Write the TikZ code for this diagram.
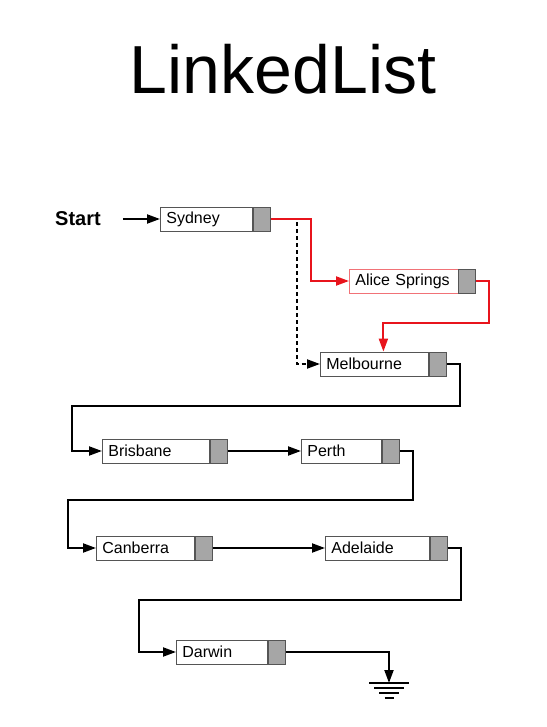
\documentclass[tikz,border=0pt]{standalone}
\usepackage{fontspec}
\setmainfont{Liberation Sans}
\usetikzlibrary{positioning,arrows.meta}

\definecolor{cellgray}{HTML}{A6A6A6}
\definecolor{edgegray}{HTML}{555555}
\definecolor{linkred}{HTML}{E8141C}

\tikzset{
    cell/.style={draw=edgegray, line width=0.8pt, anchor=west, minimum height=24pt,
        inner xsep=6pt, align=left, font=\fontsize{16}{19}\selectfont},
    ptr/.style={draw=edgegray, fill=cellgray, line width=0.8pt, minimum height=24pt,
        minimum width=17pt, inner sep=0pt},
    link/.style={line width=2pt, -{Triangle[length=13pt,width=9pt]}},
    redlink/.style={link, draw=linkred}
}

\begin{document}
\begin{tikzpicture}[x=1pt,y=-1pt]
    \useasboundingbox [fill=white] (0,0) rectangle (546,727);

    \node (title) [anchor=base, font=\fontsize{68}{80}\selectfont] at (283,94) {LinkedList};
    \node (start) [anchor=west, inner sep=0pt, font=\fontsize{20}{24}\selectfont\bfseries] at (55,219) {Start};

    % nodes of the list
    \node [cell, text width=80pt] (syd)  at (160,219) {Sydney};
    \node [ptr, right=0pt of syd] (sydp) {};
    \node [cell, text width=97pt, draw=linkred!60] (alice) at (349,281) {Alice Springs};
    \node [ptr, right=-0.8pt of alice] (alicep) {};
    \node [cell, text width=96pt] (melb) at (320,364) {Melbourne};
    \node [ptr, right=0pt of melb] (melbp) {};
    \node [cell, text width=95pt] (bris) at (102,451) {Brisbane};
    \node [ptr, right=0pt of bris] (brisp) {};
    \node [cell, text width=68pt] (perth) at (301,451) {Perth};
    \node [ptr, right=0pt of perth] (perthp) {};
    \node [cell, text width=86pt] (canb) at (96,548) {Canberra};
    \node [ptr, right=0pt of canb] (canbp) {};
    \node [cell, text width=92pt] (adel) at (325,548) {Adelaide};
    \node [ptr, right=0pt of adel] (adelp) {};
    \node [cell, text width=79pt] (darw) at (176,652) {Darwin};
    \node [ptr, right=0pt of darw] (darwp) {};
    \coordinate (gnd) at (389,683);

    % links
    \draw [link, shorten <=22pt] (start.east) -- (syd.west);
    \draw [redlink] (sydp.east) -- ++(40,0) |- (alice.west);
    \draw [redlink] (alicep.east) -- ++(13,0) -- ++(0,42) -| ([xshift=9pt]melb.north);
    \draw [link, dash pattern=on 4pt off 3pt] ([shift={(26pt,-3pt)}]sydp.east) |- (melb.west);
    \draw [link] (melbp.east) -- ++(13,0) -- ++(0,42) -| ([xshift=-30pt]bris.west) -- (bris.west);
    \draw [link] (brisp.east) -- (perth.west);
    \draw [link] (perthp.east) -- ++(13,0) -- ++(0,49) -| ([xshift=-28pt]canb.west) -- (canb.west);
    \draw [link] (canbp.east) -- (adel.west);
    \draw [link] (adelp.east) -- ++(13,0) -- ++(0,52) -| ([xshift=-37pt]darw.west) -- (darw.west);
    \draw [link] (darwp.east) -| (gnd);

    % ground
    \foreach \w [count=\i from 0] in {40,30,20,9}{%
        \draw [line width=1.8pt] ([shift={(-\w pt/2,-5pt*\i)}]gnd) -- ++(\w,0);
    }
\end{tikzpicture}
\end{document}
